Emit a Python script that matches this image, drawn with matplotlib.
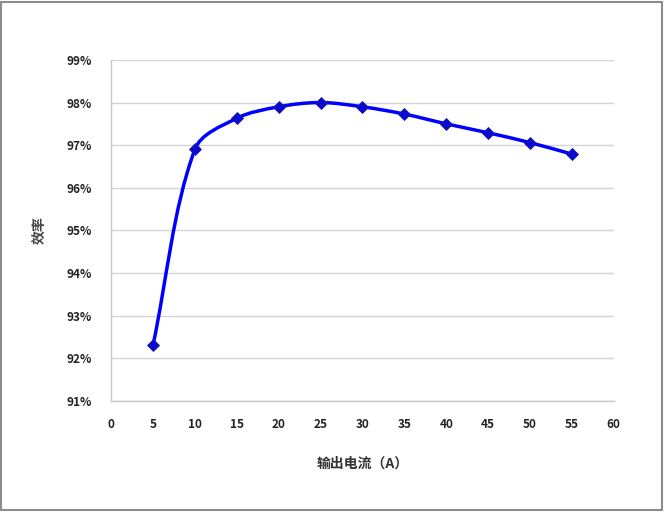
import matplotlib
matplotlib.use("Agg")
import matplotlib.pyplot as plt
from matplotlib.path import Path
from matplotlib.patches import PathPatch, Rectangle
from matplotlib.ticker import FuncFormatter

plt.rcParams['font.family'] = ['Noto Sans CJK SC', 'DejaVu Sans']

# output current (A) and efficiency (%)
current = [5, 10, 15, 20, 25, 30, 35, 40, 45, 50, 55]
efficiency = [92.3, 96.9, 97.63, 97.9, 98.0, 97.9, 97.73, 97.5, 97.29, 97.06, 96.79]

x_ticks = list(range(0, 65, 5))
y_ticks = list(range(91, 100))

# rough pixels per data unit, used only to weight the smoothing
SX, SY = 8.4, 42.6


def seg_len(a, b):
    return (((b[0] - a[0]) * SX) ** 2 + ((b[1] - a[1]) * SY) ** 2) ** 0.5


def smooth_path(xs, ys):
    # smoothed line like Excel: cubic Bezier segments, tangents weighted by chord length
    pts = list(zip(xs, ys))
    n = len(pts)
    tang = []
    for i in range(n):
        p0 = pts[max(i - 1, 0)]
        p2 = pts[min(i + 1, n - 1)]
        tang.append((p2[0] - p0[0], p2[1] - p0[1], seg_len(p0, pts[i]) + seg_len(pts[i], p2)))
    verts = [pts[0]]
    codes = [Path.MOVETO]
    for i in range(n - 1):
        p1, p2 = pts[i], pts[i + 1]
        d = seg_len(p1, p2)
        tx, ty, tl = tang[i]
        k1 = d / tl / 3 if tl else 0
        ux, uy, ul = tang[i + 1]
        k2 = d / ul / 3 if ul else 0
        c1 = (p1[0] + tx * k1, p1[1] + ty * k1)
        c2 = (p2[0] - ux * k2, p2[1] - uy * k2)
        verts += [c1, c2, p2]
        codes += [Path.CURVE4] * 3
    return Path(verts, codes)


fig = plt.figure(figsize=(6.65, 5.12), dpi=100)
ax = fig.add_axes([0.167, 0.217, 0.756, 0.666])

ax.add_patch(PathPatch(smooth_path(current, efficiency), facecolor='none',
                       edgecolor='#0000ff', lw=2.5, zorder=3))
ax.plot(current, efficiency, linestyle='none', marker='D', markersize=6,
        color='#0a0ad0', markeredgecolor='#1a1a9a', markeredgewidth=0.6, zorder=4)

ax.set_xlim(0, 60)
ax.set_ylim(91, 99)
ax.set_xticks(x_ticks)
ax.set_yticks(y_ticks)
ax.yaxis.set_major_formatter(FuncFormatter(lambda v, p: f"{v:.0f}%"))
ax.grid(axis='y', color='#d4d4d4', lw=1)
ax.set_axisbelow(True)

for s in ['top', 'right']:
    ax.spines[s].set_visible(False)
for s in ['left', 'bottom']:
    ax.spines[s].set_color('#c8c8c8')
    ax.spines[s].set_linewidth(1)

ax.tick_params(length=0, labelsize=8.5, colors='#222222', pad=12)
ax.tick_params(axis='y', pad=14)
for lab in ax.get_xticklabels() + ax.get_yticklabels():
    lab.set_fontweight('bold')

ax.set_xlabel('输出电流（A）', fontsize=10, fontweight='bold', color='#333333', labelpad=19)
ax.set_ylabel('效率', fontsize=10, fontweight='bold', color='#444444', labelpad=14)

fig.patches.append(Rectangle((0.002, 0.003), 0.994, 0.994, transform=fig.transFigure,
                             fill=False, edgecolor='#8c8c8c', lw=1.5))

fig.savefig('out.png', dpi=100)
